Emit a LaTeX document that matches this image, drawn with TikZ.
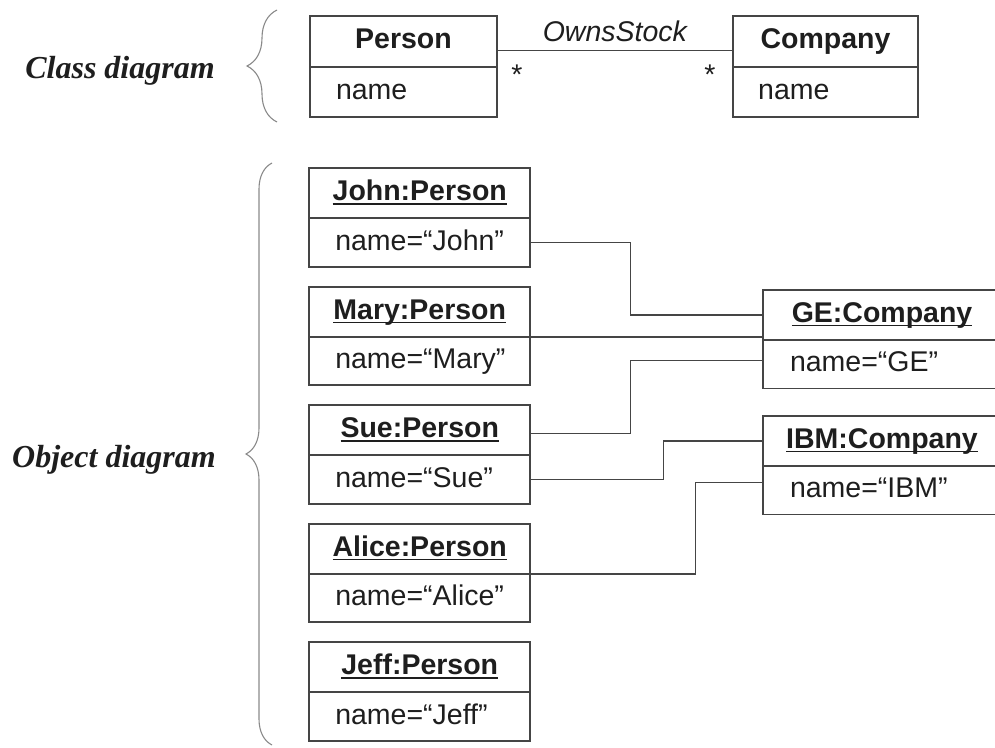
\documentclass[tikz,border=0pt]{standalone}
\usepackage{fontspec}
\setmainfont{Liberation Sans}
\newfontfamily\labelfont{Liberation Serif}
\usetikzlibrary{positioning,calc,decorations.pathreplacing}
\definecolor{linegray}{HTML}{454545}
\definecolor{textgray}{HTML}{1E1E1E}
\definecolor{bracegray}{HTML}{8A8A8A}
\newcommand{\uname}[1]{\setbox0\hbox{#1}\rlap{\vrule height -2.2pt depth 3.8pt width \wd0}\box0}

\tikzset{
  box/.style={draw=linegray, line width=1.7pt, outer sep=0pt, inner sep=0pt, text=textgray,
    font=\fontsize{28.5}{34}\selectfont, text height=21pt, text depth=6pt},
  objtitle/.style={box, minimum width=#1, minimum height=50pt, font=\fontsize{28.5}{34}\selectfont\bfseries},
  objattr/.style={box, text width=#1, inner xsep=26pt, minimum height=48.5pt, align=left},
  link/.style={draw=linegray, line width=1.5pt},
  groupbrace/.style={draw=bracegray, line width=1.1pt, decorate, decoration={brace, amplitude=#1}},
  grouplabel/.style={anchor=base, text=textgray, font=\labelfont\bfseries\itshape\fontsize{32}{38}\selectfont}
}

\begin{document}
\begin{tikzpicture}[x=1pt, y=-1pt]
    \useasboundingbox (0,0) rectangle (995,747);

    % class diagram
    \node[objtitle=187pt, minimum height=51pt] (person) at (403.5,41.2) {Person};
    \node[objattr=135pt, minimum height=50pt, below=0pt of person] (personattr) {name};
    \node[objtitle=185.6pt, minimum height=51pt, right=235.7pt of person] (company) {Company};
    \node[objattr=134.6pt, inner xsep=25.5pt, minimum height=50pt, below=0pt of company] (companyattr) {name};
    \draw[link] ([yshift=-9.5pt]person.east) -- node[above=5pt, font=\fontsize{28.5}{34}\selectfont\itshape, text=textgray] {OwnsStock}
        node[pos=0, xshift=20pt, yshift=-24pt, text=textgray, font=\fontsize{28.5}{34}\selectfont] {*}
        node[pos=1, xshift=-22.7pt, yshift=-24pt, text=textgray, font=\fontsize{28.5}{34}\selectfont] {*}
        ([yshift=-9.5pt]company.west);

    % object diagram
    \node[objtitle=221pt] (john) at (419.75,193.3) {\uname{John:Person}};
    \node[objattr=169pt, below=0pt of john] (johnname) {name=“John”};
    \node[objtitle=221pt, below=20pt of johnname] (mary) {\uname{Mary:Person}};
    \node[objattr=169pt, below=0pt of mary] (maryname) {name=“Mary”};
    \node[objtitle=221pt, below=20pt of maryname] (sue) {\uname{Sue:Person}};
    \node[objattr=169pt, below=0pt of sue] (suename) {name=“Sue”};
    \node[objtitle=221pt, below=20pt of suename] (alice) {\uname{Alice:Person}};
    \node[objattr=169pt, below=0pt of alice] (alicename) {name=“Alice”};
    \node[objtitle=221pt, below=20pt of alicename] (jeff) {\uname{Jeff:Person}};
    \node[objattr=169pt, below=0pt of jeff] (jeffname) {name=“Jeff”};

    \node[objtitle=238pt] (ge) at (882,315) {\uname{GE:Company}};
    \node[objattr=184pt, inner xsep=27pt, below=0pt of ge] (gename) {name=“GE”};
    \node[objtitle=238pt, below=27.5pt of gename] (ibm) {\uname{IBM:Company}};
    \node[objattr=184pt, inner xsep=27pt, below=0pt of ibm] (ibmname) {name=“IBM”};

    \draw[link] (johnname.east) -- ++(100pt,0) |- (ge.west);
    \draw[link] (mary.south east) -- (mary.south east -| ge.west);
    \draw[link] ([yshift=-3pt]sue.east) -- ++(100pt,0) |- ([yshift=4pt]gename.west);
    \draw[link] (suename.east) -- ++(133pt,0) |- (ibm.west);
    \draw[link] (alice.south east) -- ++(165pt,0) |- ([yshift=8pt]ibmname.west);

    % braces and labels
    \draw[groupbrace=30pt] (277,122) -- (277,10);
    \draw[groupbrace=26pt] (272,745) -- (272,163);
    \node[grouplabel] (classlabel) at (120,78) {Class diagram};
    \node[grouplabel] (objectlabel) at (114,467) {Object diagram};
\end{tikzpicture}
\end{document}
